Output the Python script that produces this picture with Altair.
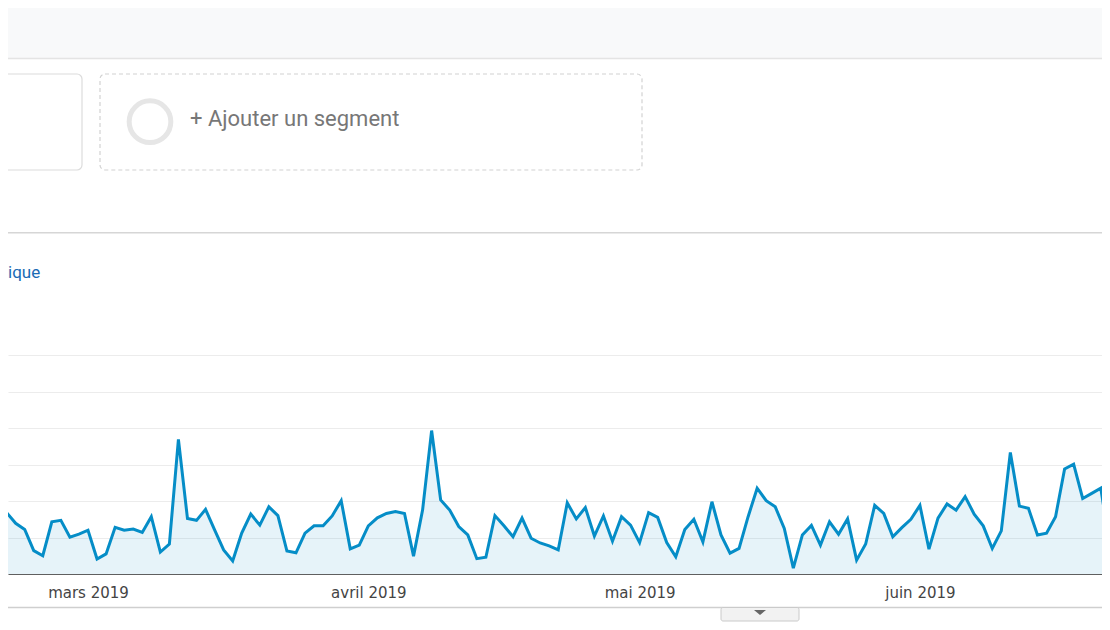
import altair as alt
import pandas as pd

# ---- data ----
first_day = "2019-02-19"
last_day = "2019-06-22"
sessions = [
    14.1, 16.8, 13.9, 12.2, 6.4, 5.0, 14.3, 14.7, 10.1, 10.9,          # 19-28 févr.
    12.0, 4.1, 5.5, 12.8, 12.0, 12.3, 11.4, 15.7, 6.0, 8.2,            # 1-10 mars
    36.9, 15.2, 14.7, 17.7, 12.1, 6.6, 3.6, 11.2, 16.4, 13.4,          # 11-20 mars
    18.4, 16.0, 6.3, 5.8, 11.2, 13.2, 13.2, 15.9, 20.1, 6.9, 7.9,      # 21-31 mars
    13.2, 15.4, 16.6, 17.1, 16.6, 4.9, 17.5, 39.3, 20.3, 17.5,         # 1-10 avril
    13.0, 10.7, 4.2, 4.6, 16.0, 13.2, 10.2, 15.3, 9.8, 8.5,            # 11-20 avril
    7.7, 6.6, 19.5, 15.1, 18.2, 10.4, 15.9, 9.0, 15.7, 13.4,           # 21-30 avril
    8.6, 16.8, 15.5, 8.6, 4.7, 12.2, 15.0, 8.8, 19.8, 10.7,            # 1-10 mai
    5.7, 7.0, 15.7, 23.5, 20.1, 18.4, 12.5, 1.6, 10.7, 13.3,           # 11-20 mai
    7.9, 14.3, 10.9, 15.1, 3.8, 8.2, 18.8, 16.6, 10.2, 12.7, 15.0,     # 21-31 mai
    18.8, 6.8, 15.3, 19.2, 17.5, 21.2, 16.4, 13.2, 7.0, 11.8,          # 1-10 juin
    33.3, 18.6, 18.0, 10.7, 11.2, 15.7, 28.8, 30.1, 20.7, 22.1,        # 11-20 juin
    23.5, 7.9,                                                          # 21-22 juin
]
dates = pd.date_range(first_day, last_day, freq="D").strftime("%Y-%m-%d").tolist()
month_ticks = ["2019-03-01", "2019-04-01", "2019-05-01", "2019-06-01"]
month_names = ["janv.", "févr.", "mars", "avril", "mai", "juin", "juil."]
grid_values = [0, 10, 20, 30, 40, 50, 60]
segment_label = "+ Ajouter un segment"
link_fragment = "ique"

df = pd.DataFrame({"date": dates, "sessions": sessions})

W, H = 1094, 566
PX_PER_DAY = 9.0426
DAY = 86400000
mar1 = pd.Timestamp("2019-03-01").value // 10**6
d0 = -8.847
x_domain = [mar1 + d0 * DAY, mar1 + (d0 + W / PX_PER_DAY) * DAY]
tick_ms = [pd.Timestamp(t).value // 10**6 for t in month_ticks]

BLUE = "#058dc7"

x_enc = alt.X(
    "date:T",
    scale=alt.Scale(type="utc", domain=x_domain),
    axis=alt.Axis(
        values=tick_ms,
        labelExpr="%s[utcmonth(datum.value)] + ' ' + utcyear(datum.value)" % str(month_names),
        ticks=False,
        grid=False,
        domainColor="#5f5f5f",
        domainWidth=1.2,
        labelFont="DejaVu Sans",
        labelFontSize=15,
        labelColor="#444444",
        labelPadding=11.5,
        labelFlush=False,
        labelOverlap=False,
        title=None,
    ),
)
y_enc = alt.Y(
    "sessions:Q",
    scale=alt.Scale(domain=[0, 60], range=[H, 347], nice=False, zero=True),
    axis=alt.Axis(
        values=grid_values,
        grid=True,
        gridColor="#ececec",
        gridWidth=1.2,
        domain=False,
        ticks=False,
        labels=False,
        title=None,
    ),
)

base = alt.Chart(df)
area = base.mark_area(color=BLUE, opacity=0.1, clip=True).encode(x=x_enc, y=y_enc)
line = base.mark_line(color=BLUE, strokeWidth=3, clip=True).encode(x="date:T", y="sessions:Q")

dummy = alt.Chart(pd.DataFrame({"k": [0]}))
header = dummy.mark_rect(color="#f8f9fa").encode(
    x=alt.value(0), x2=alt.value(W), y=alt.value(0), y2=alt.value(50))
header_line = dummy.mark_rule(color="#e4e4e4", strokeWidth=1.5).encode(
    x=alt.value(0), x2=alt.value(W), y=alt.value(50.5))
left_box = dummy.mark_rect(fillOpacity=0, stroke="#dcdcdc", strokeWidth=1.2, cornerRadius=5).encode(
    x=alt.value(-20), x2=alt.value(74), y=alt.value(66), y2=alt.value(162))
seg_box = dummy.mark_rect(fillOpacity=0, stroke="#d2d2d2", strokeWidth=1.2, strokeDash=[4, 3],
                          cornerRadius=5).encode(
    x=alt.value(92), x2=alt.value(634), y=alt.value(66), y2=alt.value(162))
ring = dummy.mark_point(shape="circle", size=1735, filled=False, stroke="#e6e6e6",
                        strokeWidth=5, opacity=1).encode(x=alt.value(142), y=alt.value(113.7))
seg_text = dummy.mark_text(text=segment_label, font="Roboto", fontSize=22, color="#777777",
                           align="left", baseline="alphabetic").encode(x=alt.value(182), y=alt.value(117.7))
sep_line = dummy.mark_rule(color="#d6d6d6", strokeWidth=1.5).encode(
    x=alt.value(0), x2=alt.value(W), y=alt.value(224.7))
link_text = dummy.mark_text(text=link_fragment, font="Roboto", fontSize=17, color="#1a6bb5",
                            align="left", baseline="middle").encode(x=alt.value(0), y=alt.value(265))
bottom_line = dummy.mark_rule(color="#cfcfcf", strokeWidth=1.5).encode(
    x=alt.value(0), x2=alt.value(W), y=alt.value(599.5))
tab = dummy.mark_rect(fill="#f2f2f2", stroke="#cacaca", strokeWidth=1, cornerRadius=2).encode(
    x=alt.value(713), x2=alt.value(791), y=alt.value(599.5), y2=alt.value(613))
arrow = dummy.mark_point(shape="M-1,-0.42L1,-0.42L0,0.42Z", size=144, filled=True,
                         color="#666666", opacity=1, strokeWidth=0).encode(x=alt.value(752), y=alt.value(604.5))

chart = alt.layer(
    header, header_line, left_box, seg_box, ring, seg_text, sep_line, link_text,
    area, line, bottom_line, tab, arrow,
).properties(
    width=W, height=H,
    autosize=alt.AutoSizeParams(type="none"),
    padding={"left": 0, "top": 0, "right": 0, "bottom": 48},
    background="white",
).configure_view(stroke=None)

chart.save("out.html", embed_options={"renderer": "svg", "actions": False})
